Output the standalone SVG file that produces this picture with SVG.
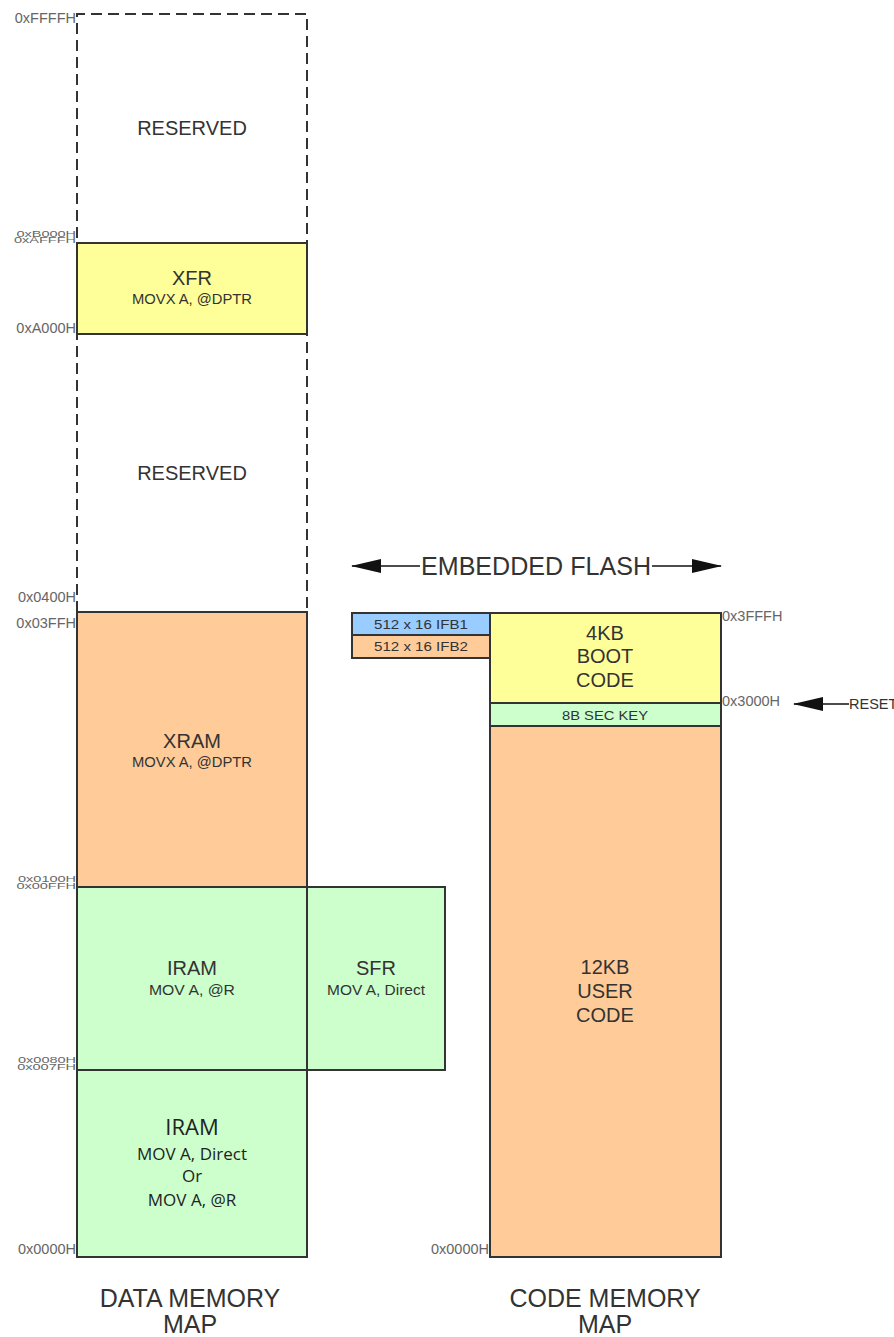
<svg xmlns="http://www.w3.org/2000/svg" width="894" height="1337" viewBox="0 0 894 1337">
<defs>
<style>
.addr{font-family:"Liberation Sans",Arial,sans-serif;font-size:14.5px;fill:#666;text-anchor:end}
.addrL{font-family:"Liberation Sans",Arial,sans-serif;font-size:14.5px;fill:#666}
.t{font-family:"Liberation Sans",Arial,sans-serif;fill:#333;text-anchor:middle}
.big{font-size:20px}
.sm{font-size:14.5px}
.cal{font-family:"Open Sans","Liberation Sans",sans-serif;fill:#222;text-anchor:middle}
.box{stroke:#333;stroke-width:2}
.dash{fill:none;stroke:#333;stroke-width:2;stroke-dasharray:11 6}
.yel{fill:#FFFF99}
.org{fill:#FFCC99}
.grn{fill:#CCFFCC}
.blu{fill:#99CCFF}
.title{font-family:"Liberation Sans",Arial,sans-serif;font-size:25px;fill:#333;text-anchor:middle}
.conn{stroke:#111;stroke-width:1.5;fill:none}
</style>
<marker id="ahb" markerWidth="30" markerHeight="14" refX="29" refY="7" orient="auto" markerUnits="userSpaceOnUse" viewBox="0 0 30 14">
<path d="M0,0 L30,7 L0,14 z" fill="#111"/>
</marker>
</defs>
<rect width="894" height="1337" fill="#fff"/>

<g id="data-reserved-top">
<path class="dash" d="M77,612 L77,14 L307,14 L307,612"/>
<text class="t big" x="192" y="135">RESERVED</text>
</g>
<g id="data-xfr">
<rect class="box yel" x="77" y="243" width="230" height="91"/>
<text class="t big" x="192" y="285">XFR</text>
<text class="t sm" x="192" y="304" textLength="120" lengthAdjust="spacingAndGlyphs">MOVX A, @DPTR</text>
</g>
<g id="data-reserved-mid">
<text class="t big" x="192" y="480">RESERVED</text>
</g>
<g id="data-xram">
<rect class="box org" x="77" y="612" width="230" height="275"/>
<text class="t big" x="192" y="748">XRAM</text>
<text class="t sm" x="192" y="767" textLength="120" lengthAdjust="spacingAndGlyphs">MOVX A, @DPTR</text>
</g>
<g id="data-sfr">
<rect class="box grn" x="307" y="887" width="138" height="183"/>
<text class="t big" x="376" y="975">SFR</text>
<text class="t sm" x="376" y="995" textLength="98" lengthAdjust="spacingAndGlyphs">MOV A, Direct</text>
</g>
<g id="data-iram-upper">
<rect class="box grn" x="77" y="887" width="230" height="183"/>
<text class="t big" x="192" y="975">IRAM</text>
<text class="t sm" x="192" y="995" textLength="86" lengthAdjust="spacingAndGlyphs">MOV A, @R</text>
</g>
<g id="data-iram-lower">
<rect class="box grn" x="77" y="1070" width="230" height="187"/>
<text class="cal" x="192" y="1135" font-size="22">IRAM</text>
<text class="cal" x="192" y="1160" font-size="17">MOV A, Direct</text>
<text class="cal" x="192" y="1182" font-size="17">Or</text>
<text class="cal" x="192" y="1206" font-size="17">MOV A, @R</text>
</g>
<path class="dash" d="M77,612 L307,612"/>

<g id="data-addresses">
<text class="addr" x="76" y="23">0xFFFFH</text>
<text class="addr" transform="translate(76,237) scale(1,0.6)">0xB000H</text>
<text class="addr" transform="translate(76,243) scale(1,0.6)">0xAFFFH</text>
<text class="addr" x="76" y="333">0xA000H</text>
<text class="addr" x="76" y="602">0x0400H</text>
<text class="addr" x="76" y="628">0x03FFH</text>
<text class="addr" transform="translate(76,882) scale(1,0.6)">0x0100H</text>
<text class="addr" transform="translate(76,889) scale(1,0.6)">0x00FFH</text>
<text class="addr" transform="translate(76,1063) scale(1,0.6)">0x0080H</text>
<text class="addr" transform="translate(76,1070) scale(1,0.6)">0x007FH</text>
<text class="addr" x="76" y="1254">0x0000H</text>
</g>
<g id="data-title">
<text class="title" x="190" y="1307">DATA MEMORY</text>
<text class="title" x="190" y="1333">MAP</text>
</g>

<g id="ifb1">
<rect class="box blu" x="352" y="613" width="138" height="22"/>
<text class="t" x="421" y="629" font-size="13" textLength="94" lengthAdjust="spacingAndGlyphs">512 x 16 IFB1</text>
</g>
<g id="ifb2">
<rect class="box org" x="352" y="635" width="138" height="23"/>
<text class="t" x="421" y="651" font-size="13" textLength="94" lengthAdjust="spacingAndGlyphs">512 x 16 IFB2</text>
</g>
<g id="code-boot">
<rect class="box yel" x="490" y="613" width="231" height="90"/>
<text class="t big" x="605" y="640">4KB</text>
<text class="t big" x="605" y="663">BOOT</text>
<text class="t big" x="605" y="687">CODE</text>
</g>
<g id="code-seckey">
<rect class="box grn" x="490" y="703" width="231" height="23"/>
<text class="t" x="605" y="720" font-size="13" textLength="86" lengthAdjust="spacingAndGlyphs">8B SEC KEY</text>
</g>
<g id="code-user">
<rect class="box org" x="490" y="726" width="231" height="531"/>
<text class="t big" x="605" y="974">12KB</text>
<text class="t big" x="605" y="998">USER</text>
<text class="t big" x="605" y="1022">CODE</text>
</g>
<g id="code-addresses">
<text class="addrL" x="722" y="621">0x3FFFH</text>
<text class="addrL" x="722" y="706">0x3000H</text>
<text class="addr" x="489" y="1254">0x0000H</text>
</g>
<g id="code-title">
<text class="title" x="605" y="1307">CODE MEMORY</text>
<text class="title" x="605" y="1333">MAP</text>
</g>

<g id="connectors">
<line class="conn" x1="420" y1="566" x2="352" y2="566" marker-end="url(#ahb)"/>
<line class="conn" x1="652" y1="566" x2="721" y2="566" marker-end="url(#ahb)"/>
<line class="conn" x1="849" y1="704" x2="794" y2="704" marker-end="url(#ahb)"/>
</g>
<text class="title" x="536" y="575" font-size="24" textLength="230" lengthAdjust="spacingAndGlyphs">EMBEDDED FLASH</text>
<text x="849" y="709" font-family="Liberation Sans, Arial, sans-serif" font-size="14.5" fill="#333">RESET</text>
</svg>
